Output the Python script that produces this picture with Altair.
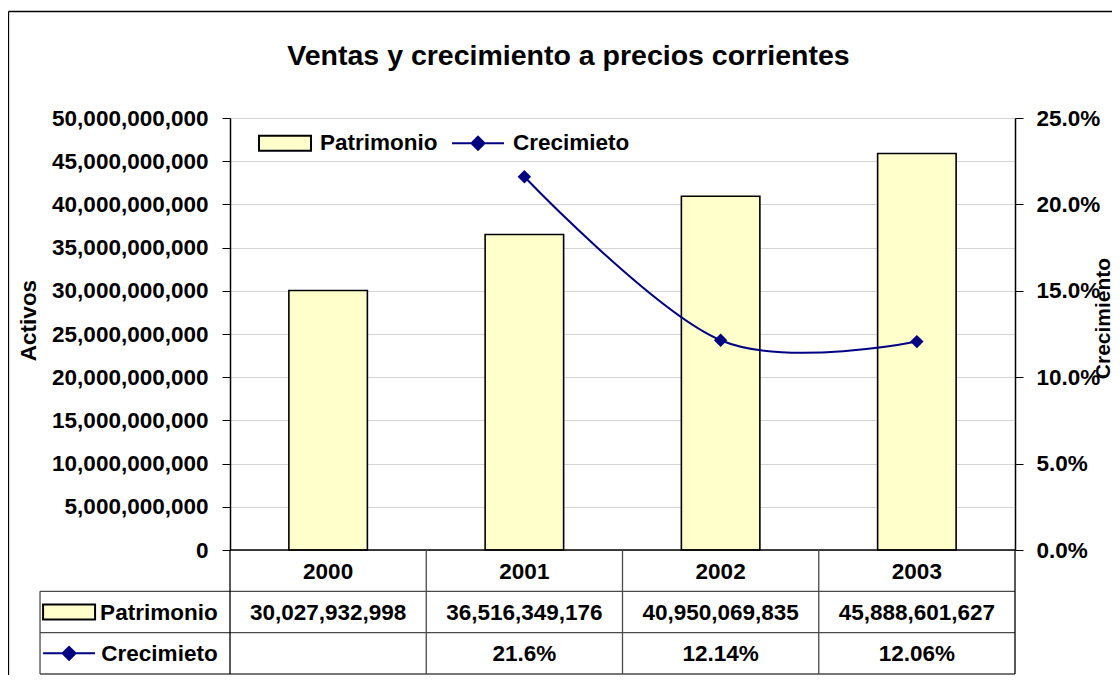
import altair as alt
import pandas as pd

# ---------------- data ----------------
years = ["2000", "2001", "2002", "2003"]
patrimonio = [30027932998, 36516349176, 40950069835, 45888601627]
crecimiento = [None, 0.216, 0.1214, 0.1206]
crec_labels = ["", "21.6%", "12.14%", "12.06%"]
series_names = ["Patrimonio", "Crecimieto"]
left_ticks = [0, 5e9, 10e9, 15e9, 20e9, 25e9, 30e9, 35e9, 40e9, 45e9, 50e9]
right_ticks = [0.0, 0.05, 0.10, 0.15, 0.20, 0.25]
chart_title = "Ventas y crecimiento a precios corrientes"
left_title = "Activos"
right_title = "Crecimiento"

FONT = "Liberation Sans"
W, H = 785, 432
TABLE_BOTTOM = 556  # pixel position (in plot coords) of the table's last line
BAR_FILL = "#FFFFCC"
LINE_COLOR = "#000080"
RECT_PATH = "M-1,-0.29H1V0.29H-1Z"
LINE_PATH = "M-1,0H1M0,-0.25L0.25,0L0,0.25L-0.25,0Z"

# ---------------- main plot ----------------
df = pd.DataFrame({"year": years, "pat": patrimonio, "crec": crecimiento})
df_line = df.dropna(subset=["crec"])

xband = alt.Scale(domain=years, paddingInner=0.6, paddingOuter=0.3)

bars = alt.Chart(df).mark_bar(fill=BAR_FILL, stroke="#000000", strokeWidth=1.6).encode(
    x=alt.X("year:N", scale=xband, axis=None),
    y=alt.Y(
        "pat:Q",
        scale=alt.Scale(domain=[0, 50e9], nice=False),
        axis=alt.Axis(
            orient="left", values=left_ticks, format=",.0f", title=left_title,
            grid=True, gridColor="#d4d4d4", gridWidth=1,
            domainColor="#000000", domainWidth=1.5,
            tickColor="#000000", tickSize=8, tickWidth=1,
            labelFont=FONT, labelFontSize=22.5, labelFontWeight="bold", labelColor="#000000",
            labelPadding=14,
            titleFont=FONT, titleFontSize=22.5, titleFontWeight="bold", titleColor="#000000",
            titleAngle=270, titleX=-195, titleY=202, titleBaseline="alphabetic", titleAlign="center",
        ),
    ),
)

line = alt.Chart(df_line).mark_line(
    color=LINE_COLOR, strokeWidth=2, interpolate="cardinal",
    point=alt.OverlayMarkDef(shape="diamond", size=180, filled=True, color=LINE_COLOR, opacity=1),
).encode(
    x=alt.X("year:N", scale=xband, axis=None),
    y=alt.Y(
        "crec:Q",
        scale=alt.Scale(domain=[0, 0.25], nice=False),
        axis=alt.Axis(
            orient="right", values=right_ticks, format=".1%", title=right_title, grid=False,
            domainColor="#000000", domainWidth=1.5,
            tickColor="#000000", tickSize=8, tickWidth=1,
            labelFont=FONT, labelFontSize=22.5, labelFontWeight="bold", labelColor="#000000",
            labelPadding=13,
            titleFont=FONT, titleFontSize=21, titleFontWeight="bold", titleColor="#000000",
            titleAngle=270, titleX=94, titleY=200, titleBaseline="alphabetic", titleAlign="center",
        ),
    ),
)

# ---------------- data table below the plot (also frame & title) ----------------
X_UNIT = W / 4.0
Y_UNIT = (TABLE_BOTTOM - H) / 3.0

def tx(field):
    return alt.X(field, type="quantitative", scale=alt.Scale(domain=[0, 4], nice=False, zero=False), axis=None)

def ty(field):
    return alt.Y(field, type="quantitative",
                 scale=alt.Scale(domain=[0, 3], range=[H, TABLE_BOTTOM], nice=False, zero=False), axis=None)

LABEL_LEFT = -0.968
n = len(years)
rules = []
rules.append({"x": 0, "x2": n, "y": 0, "y2": 0, "c": "axis"})
for r in (1, 2, 3):
    rules.append({"x": LABEL_LEFT, "x2": n, "y": r, "y2": r, "c": "grid"})
for c in range(n + 1):
    rules.append({"x": c, "x2": c, "y": 0, "y2": 3, "c": "axis" if c in (0, n) else "grid"})
rules.append({"x": LABEL_LEFT, "x2": LABEL_LEFT, "y": 1, "y2": 3, "c": "grid"})
# outer chart frame: top and left edges (the others fall outside the picture)
fx = -221.5 / X_UNIT
fy = (-106.5 - H) / Y_UNIT
rules.append({"x": fx, "x2": 4.6, "y": fy, "y2": fy, "c": "axis"})
rules.append({"x": fx, "x2": fx, "y": fy, "y2": 3.5, "c": "axis"})
rules_df = pd.DataFrame(rules)

table_rules = alt.Chart(rules_df).mark_rule(strokeWidth=1.3).encode(
    x=tx("x"), x2=alt.X2("x2"), y=ty("y"), y2=alt.Y2("y2"),
    color=alt.Color("c:N", scale=alt.Scale(domain=["axis", "grid"], range=["#000000", "#4a4a4a"]), legend=None),
)

cells = []
for i, yr in enumerate(years):
    cells.append({"tx": i + 0.5, "ty": 0.5, "t": yr})
    cells.append({"tx": i + 0.5, "ty": 1.5, "t": f"{patrimonio[i]:,}"})
    cells.append({"tx": i + 0.5, "ty": 2.5, "t": crec_labels[i]})
cells_df = pd.DataFrame(cells)

table_text = alt.Chart(cells_df).mark_text(
    font=FONT, fontSize=22.5, fontWeight="bold", color="#000000", align="center", baseline="middle", dy=1
).encode(x=tx("tx"), y=ty("ty"), text="t:N")

row_df = pd.DataFrame({"series": series_names, "ty": [1.5, 2.5], "tx_lab": [-0.063, -0.063], "tx_sym": [-0.82, -0.82]})

row_labels = alt.Chart(row_df).mark_text(
    font=FONT, fontSize=22.5, fontWeight="bold", color="#000000", align="right", baseline="middle", dy=1
).encode(x=tx("tx_lab"), y=ty("ty"), text="series:N")

title_df = pd.DataFrame({"t": [chart_title], "tx": [338.5 / X_UNIT], "ty": [(-53 - H) / Y_UNIT]})
title_text = alt.Chart(title_df).mark_text(
    font=FONT, fontSize=28.5, fontWeight="bold", color="#000000", align="center", baseline="alphabetic"
).encode(x=tx("tx"), y=ty("ty"), text="t:N")

legend_def = alt.Legend(
    title=None, orient="none", legendX=28, legendY=-2, direction="horizontal",
    labelFont=FONT, labelFontSize=22.5, labelFontWeight="bold", labelColor="#000000",
    symbolSize=2704, symbolStrokeWidth=2, labelOffset=8, columnPadding=10, padding=0,
    symbolOpacity=1,
)

row_symbols = alt.Chart(row_df).mark_point(filled=True, opacity=1, size=2704, strokeWidth=2).encode(
    x=tx("tx_sym"), y=ty("ty"),
    fill=alt.Fill("series:N", scale=alt.Scale(domain=series_names, range=[BAR_FILL, LINE_COLOR]), legend=legend_def),
    stroke=alt.Stroke("series:N", scale=alt.Scale(domain=series_names, range=["#000000", LINE_COLOR]), legend=legend_def),
    shape=alt.Shape("series:N", scale=alt.Scale(domain=series_names, range=[RECT_PATH, LINE_PATH]), legend=legend_def),
)

chart = alt.layer(
    bars, line, table_rules, table_text, row_labels, row_symbols, title_text
).resolve_scale(
    x="independent", y="independent"
).properties(
    width=W, height=H,
    autosize=alt.AutoSizeParams(type="none"),
    padding={"left": 222, "top": 110, "right": 97, "bottom": 125},
).configure_view(stroke=None)

chart.save("out.html", embed_options={"renderer": "svg", "actions": False})
